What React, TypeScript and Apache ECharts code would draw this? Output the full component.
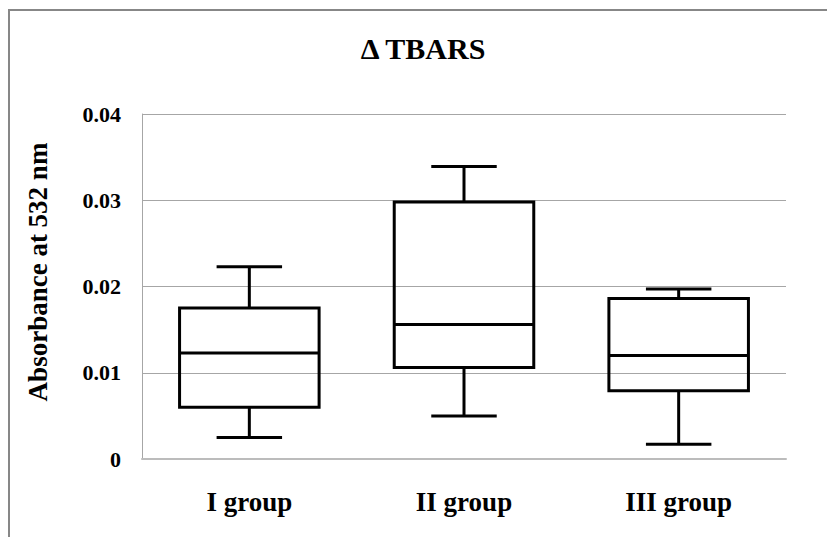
import React, { useEffect, useRef } from "react";
import * as echarts from "echarts";

const categories = ["I group", "II group", "III group"];
const lowerWhisker = [0.0025, 0.005, 0.0017];
const quartile1 = [0.006, 0.0106, 0.0079];
const medians = [0.0123, 0.0156, 0.012];
const quartile3 = [0.0175, 0.0298, 0.0186];
const upperWhisker = [0.0223, 0.0339, 0.0197];
const yMin = 0;
const yMax = 0.04;
const yStep = 0.01;
const titleText = "Δ TBARS";
const yAxisTitle = "Absorbance at 532 nm";

const FONT = "Liberation Serif";

export default function App() {
  const ref = useRef<HTMLDivElement>(null);
  useEffect(() => {
    if (!ref.current) return;
    const chart = echarts.init(ref.current, undefined, { renderer: "svg" });
    const data = categories.map((_, i) => [
      i,
      lowerWhisker[i],
      quartile1[i],
      medians[i],
      quartile3[i],
      upperWhisker[i],
    ]);
    const lineStyle = { stroke: "#000", lineWidth: 3, fill: "none" };
    chart.setOption({
      animation: false,
      backgroundColor: "#fff",
      grid: { left: 142, top: 114, right: 41, bottom: 78 },
      graphic: [
        {
          type: "rect",
          shape: { x: 9, y: 10, width: 850, height: 560 },
          style: { fill: "none", stroke: "#878787", lineWidth: 2 },
          silent: true,
        },
        {
          type: "text",
          x: 423,
          y: 48,
          style: {
            text: titleText,
            fontFamily: FONT,
            fontWeight: "bold",
            fontSize: 30,
            fill: "#000",
            align: "center",
            verticalAlign: "middle",
          },
        },
        {
          type: "text",
          x: 37.5,
          y: 272,
          rotation: Math.PI / 2,
          style: {
            text: yAxisTitle,
            fontFamily: FONT,
            fontWeight: "bold",
            fontSize: 27,
            fill: "#000",
            align: "center",
            verticalAlign: "middle",
          },
        },
      ],
      xAxis: {
        type: "category",
        data: categories,
        axisLine: { show: true, lineStyle: { color: "#bcbcbc", width: 2 } },
        axisTick: { show: false },
        axisLabel: {
          fontFamily: FONT,
          fontWeight: "bold",
          fontSize: 27,
          color: "#000",
          margin: 29,
        },
        splitLine: { show: false },
      },
      yAxis: {
        type: "value",
        min: yMin,
        max: yMax,
        interval: yStep,
        axisLine: { show: true, lineStyle: { color: "#a6a6a6", width: 1 } },
        axisTick: { show: false },
        axisLabel: {
          fontFamily: FONT,
          fontWeight: "bold",
          fontSize: 22,
          color: "#000",
          margin: 21,
        },
        splitLine: { show: true, lineStyle: { color: "#a6a6a6", width: 1 } },
      },
      series: [
        {
          type: "custom",
          data,
          encode: { x: 0, y: [1, 2, 3, 4, 5] },
          renderItem: (params: any, api: any) => {
            const idx = api.value(0);
            const band = api.size([1, 0])[0];
            const boxW = band * 0.65;
            const capW = band * 0.305;
            const pLow = api.coord([idx, api.value(1)]);
            const pQ1 = api.coord([idx, api.value(2)]);
            const pMed = api.coord([idx, api.value(3)]);
            const pQ3 = api.coord([idx, api.value(4)]);
            const pHigh = api.coord([idx, api.value(5)]);
            const cx = pLow[0];
            return {
              type: "group",
              children: [
                {
                  type: "line",
                  shape: { x1: cx, y1: pQ1[1], x2: cx, y2: pLow[1] },
                  style: lineStyle,
                },
                {
                  type: "line",
                  shape: { x1: cx - capW / 2, y1: pLow[1], x2: cx + capW / 2, y2: pLow[1] },
                  style: lineStyle,
                },
                {
                  type: "line",
                  shape: { x1: cx, y1: pQ3[1], x2: cx, y2: pHigh[1] },
                  style: lineStyle,
                },
                {
                  type: "line",
                  shape: { x1: cx - capW / 2, y1: pHigh[1], x2: cx + capW / 2, y2: pHigh[1] },
                  style: lineStyle,
                },
                {
                  type: "rect",
                  shape: { x: cx - boxW / 2, y: pQ3[1], width: boxW, height: pQ1[1] - pQ3[1] },
                  style: lineStyle,
                },
                {
                  type: "line",
                  shape: { x1: cx - boxW / 2, y1: pMed[1], x2: cx + boxW / 2, y2: pMed[1] },
                  style: lineStyle,
                },
              ],
            };
          },
        },
      ],
    });
    return () => chart.dispose();
  }, []);
  return (
    <div
      ref={ref}
      style={{ position: "fixed", left: 0, top: 0, width: 827, height: 537, background: "#fff" }}
    />
  );
}
